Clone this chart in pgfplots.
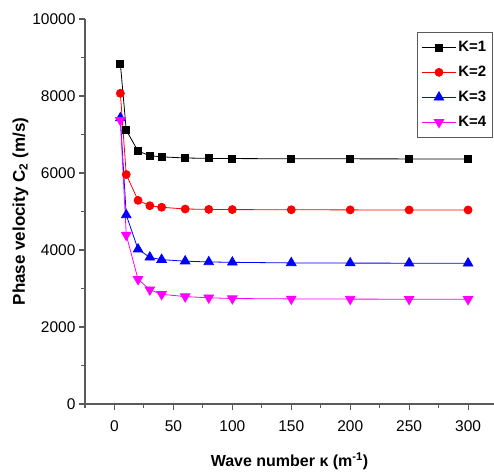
\documentclass[border=0pt]{standalone}
\usepackage{fontspec}
\setmainfont{Liberation Sans}
\usepackage{pgfplots}
\pgfplotsset{compat=1.18}
\definecolor{axgray}{RGB}{90,90,90}
\definecolor{kmag}{RGB}{255,0,255}

\begin{document}
\begin{tikzpicture}
\begin{axis}[
  name=ax, at={(0pt,0pt)}, anchor=south west,
  scale only axis, width=409pt, height=385pt,
  xmin=-25, xmax=322, ymin=0, ymax=10000,
  axis lines=left,
  axis line style={-, draw=axgray, line width=1.3pt},
  xtick={0,50,...,300},
  minor xtick={-25,25,75,125,175,225,275},
  ytick={0,2000,...,10000},
  minor ytick={1000,3000,5000,7000,9000},
  tick align=outside,
  major tick length=6pt, minor tick length=3.5pt,
  every tick/.style={draw=axgray, line width=1.1pt},
  scaled y ticks=false,
  /pgf/number format/1000 sep={},
  /pgf/number format/assume math mode=true,
  tick label style={font=\fontsize{15.5}{17}\selectfont},
  xticklabel style={yshift=-7pt},
  xlabel={Wave number κ (m\textsuperscript{-1})},
  ylabel={Phase velocity C\textsubscript{2} (m/s)},
  label style={font=\bfseries\fontsize{16}{18}\selectfont},
  xlabel style={yshift=-14pt},
  ylabel style={yshift=-3pt, font=\bfseries\fontsize{17}{19}\selectfont},
  legend style={at={(0.997,0.966)}, anchor=north east,
    font=\bfseries\fontsize{15}{17}\selectfont,
    draw=axgray, line width=0.9pt, row sep=9pt,
    inner xsep=4pt, inner ysep=7pt},
  legend cell align=left,
  legend image code/.code={%
    \draw[mark repeat=2,mark phase=2]
      plot coordinates {(0pt,0pt) (17pt,0pt) (34pt,0pt)};},
  every axis plot/.append style={line width=0.8pt},
]
\addplot[black, mark=square*, mark size=3.5pt] coordinates {
  (5,8840) (10,7110) (20,6570) (30,6450) (40,6420) (60,6390)
  (80,6380) (100,6375) (150,6370) (200,6368) (250,6366) (300,6365)};
\addlegendentry{K=1}
\addplot[red, mark=*, mark size=4pt] coordinates {
  (5,8070) (10,5960) (20,5290) (30,5150) (40,5110) (60,5065)
  (80,5055) (100,5050) (150,5045) (200,5042) (250,5040) (300,5040)};
\addlegendentry{K=2}
\addplot[blue, mark=triangle*, mark size=5.5pt] coordinates {
  (5,7430) (10,4910) (20,4020) (30,3810) (40,3750) (60,3710)
  (80,3690) (100,3680) (150,3665) (200,3660) (250,3658) (300,3655)};
\addlegendentry{K=3}
\addplot[kmag, mark=triangle*, mark options={rotate=180}, mark size=5.5pt] coordinates {
  (5,7370) (10,4390) (20,3240) (30,2970) (40,2850) (60,2790)
  (80,2760) (100,2740) (150,2730) (200,2725) (250,2722) (300,2720)};
\addlegendentry{K=4}
\end{axis}
\pgfresetboundingbox
\path (-85pt,-71pt) rectangle (409pt,404pt);
\end{tikzpicture}
\end{document}
